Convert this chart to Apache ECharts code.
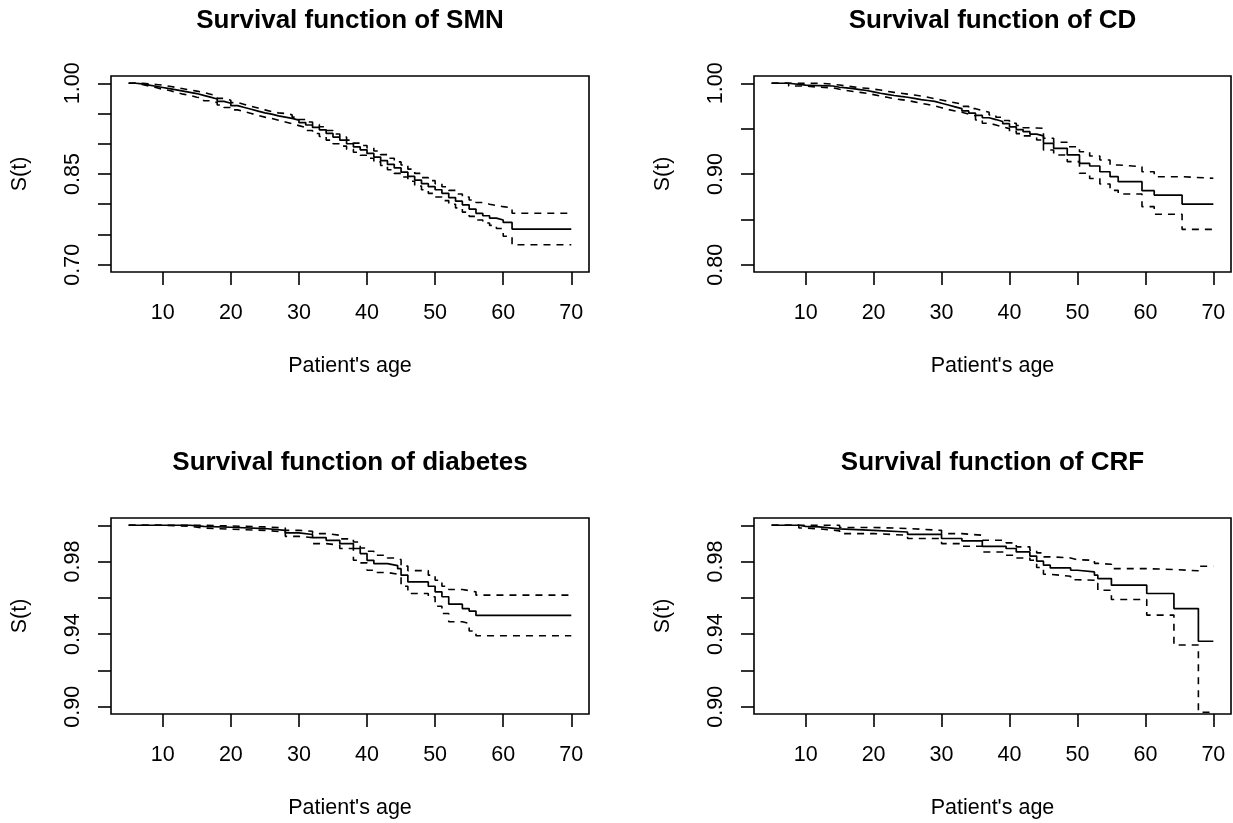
<!DOCTYPE html>
<html>
<head>
<meta charset="utf-8">
<script src="https://cdn.jsdelivr.net/npm/echarts@6/dist/echarts.min.js"></script>
<style>
html,body{margin:0;padding:0;background:#fff;}
#chart{width:1233px;height:823px;}
</style>
</head>
<body>
<div id="chart"></div>
<script>
// ---------- data ----------
const xTicks = [10, 20, 30, 40, 50, 60, 70];

const smnYTicks = [0.70, 0.75, 0.80, 0.85, 0.90, 0.95, 1.00];
const smnYLabels = [0.70, 0.85, 1.00];
const cdYTicks = [0.80, 0.85, 0.90, 0.95, 1.00];
const cdYLabels = [0.80, 0.90, 1.00];
const smallYTicks = [0.90, 0.92, 0.94, 0.96, 0.98, 1.00];
const smallYLabels = [0.90, 0.94, 0.98];

// Survival function of SMN
const smnTime  = [5, 6, 7, 8, 9, 10, 11, 12, 13, 14, 15, 16, 17, 18, 19, 20, 21, 22, 23, 24, 25, 26, 27, 28, 29, 30,
                  31, 32, 33, 34, 35, 36, 37, 38, 39, 40, 41, 42, 43, 44, 45, 46, 47, 48, 49, 50,
                  51, 52, 53, 54, 55, 56, 57, 58, 59, 60, 61.3, 70];
const smnSurv  = [1.000, 0.999, 0.997, 0.995, 0.993, 0.991, 0.989, 0.987, 0.985, 0.983, 0.980, 0.977, 0.974, 0.970, 0.967, 0.963, 0.960, 0.957, 0.954, 0.951, 0.949, 0.946, 0.944, 0.942, 0.939, 0.935,
                  0.931, 0.927, 0.923, 0.917, 0.911, 0.906, 0.900, 0.895, 0.890, 0.884, 0.878, 0.872, 0.866, 0.860, 0.853, 0.846, 0.840, 0.834, 0.829, 0.824,
                  0.818, 0.811, 0.805, 0.799, 0.792, 0.785, 0.781, 0.777, 0.774, 0.770, 0.759, 0.759];
const smnUpper = [1.000, 1.000, 0.999, 0.998, 0.997, 0.995, 0.993, 0.991, 0.989, 0.987, 0.985, 0.982, 0.979, 0.975, 0.972, 0.968, 0.965, 0.962, 0.959, 0.956, 0.953, 0.951, 0.950, 0.948, 0.944, 0.940,
                  0.936, 0.932, 0.928, 0.922, 0.916, 0.911, 0.906, 0.901, 0.897, 0.893, 0.888, 0.882, 0.876, 0.870, 0.865, 0.858, 0.851, 0.844, 0.839, 0.834,
                  0.829, 0.823, 0.817, 0.812, 0.807, 0.803, 0.800, 0.798, 0.796, 0.794, 0.785, 0.785];
const smnLower = [1.000, 0.998, 0.995, 0.993, 0.990, 0.988, 0.985, 0.982, 0.980, 0.977, 0.975, 0.971, 0.968, 0.964, 0.960, 0.956, 0.953, 0.950, 0.947, 0.944, 0.942, 0.939, 0.936, 0.933, 0.930, 0.927,
                  0.922, 0.917, 0.912, 0.906, 0.900, 0.896, 0.891, 0.886, 0.881, 0.876, 0.870, 0.864, 0.857, 0.851, 0.845, 0.838, 0.830, 0.824, 0.818, 0.812,
                  0.806, 0.800, 0.794, 0.787, 0.780, 0.774, 0.769, 0.765, 0.760, 0.747, 0.733, 0.733];

// Survival function of CD
const cdTime  = [5, 7.5, 10, 12,
                 14, 15, 16, 17, 18, 19, 20, 21, 22, 23, 24, 25, 26, 27, 28, 29, 30, 31, 32, 33, 34, 35, 36, 37, 38, 39, 40, 41, 42, 43, 44,
                 45, 46.5, 48.5, 50.3, 51.8, 53.3, 54.8, 56, 59.5, 61.3, 65.4, 70];
const cdSurv  = [1.000, 0.998, 0.9975, 0.997,
                 0.9956, 0.995, 0.994, 0.993, 0.992, 0.9905, 0.989, 0.9878, 0.9865, 0.9855, 0.9846, 0.9833, 0.982, 0.981, 0.980, 0.978, 0.976, 0.974, 0.972, 0.9695, 0.967, 0.9645, 0.962, 0.960, 0.9578, 0.9555, 0.952, 0.949, 0.9466, 0.944, 0.942,
                 0.9338, 0.9283, 0.921, 0.9118, 0.9088, 0.9025, 0.897, 0.8915, 0.8816, 0.8768, 0.8669, 0.8669];
const cdUpper = [1.000, 1.000, 1.000, 0.999,
                 0.998, 0.997, 0.996, 0.995, 0.9945, 0.9935, 0.9926, 0.991, 0.990, 0.989, 0.988, 0.987, 0.986, 0.9845, 0.983, 0.9815, 0.980, 0.9785, 0.977, 0.9745, 0.972, 0.970, 0.968, 0.965, 0.9625, 0.959, 0.956, 0.9535, 0.951, 0.9507, 0.9504,
                 0.9394, 0.935, 0.930, 0.9246, 0.9198, 0.9154, 0.910, 0.908, 0.9025, 0.897, 0.8953, 0.8953];
const cdLower = [1.000, 0.997, 0.9956, 0.995,
                 0.9934, 0.992, 0.991, 0.990, 0.989, 0.9875, 0.986, 0.9845, 0.983, 0.982, 0.981, 0.9795, 0.978, 0.9765, 0.975, 0.973, 0.971, 0.9695, 0.968, 0.966, 0.964, 0.9595, 0.956, 0.954, 0.952, 0.950, 0.947, 0.9445, 0.942, 0.940, 0.9375,
                 0.9265, 0.921, 0.9136, 0.9008, 0.895, 0.889, 0.882, 0.878, 0.864, 0.8556, 0.839, 0.839];

// Survival function of diabetes
const diaTime  = [5, 10, 14, 16, 20, 25, 28, 30, 32, 34, 36, 38, 39, 40, 41, 43, 44.5, 45, 46, 49, 50, 51, 52, 54, 55, 56, 70];
const diaSurv  = [1.000, 1.000, 0.9994, 0.9989, 0.9982, 0.9972, 0.9958, 0.9949, 0.9932, 0.9917, 0.9899, 0.9872, 0.9844, 0.9807, 0.9789, 0.9778, 0.9761, 0.9725, 0.9688, 0.9664, 0.9633, 0.9606, 0.9565, 0.9541, 0.9527, 0.9503, 0.9503];
const diaUpper = [1.000, 1.000, 1.000, 0.9996, 0.9991, 0.9985, 0.9972, 0.9967, 0.9954, 0.9945, 0.9925, 0.9908, 0.9875, 0.9857, 0.9835, 0.982, 0.981, 0.9775, 0.975, 0.9725, 0.9697, 0.9664, 0.9646, 0.9640, 0.9633, 0.9615, 0.9615];
const diaLower = [1.000, 0.9994, 0.9985, 0.9978, 0.9972, 0.9963, 0.9939, 0.9932, 0.9899, 0.989, 0.9872, 0.9807, 0.9793, 0.9752, 0.9740, 0.9730, 0.9719, 0.9664, 0.9624, 0.9606, 0.9554, 0.9514, 0.9468, 0.9459, 0.9417, 0.9391, 0.9391];

// Survival function of CRF
const crfTime  = [5, 8, 9, 10, 12, 15, 20, 25, 30, 33, 36, 39.5, 41, 43, 44, 45, 46, 49, 50, 52.5, 53, 55, 60.2, 64.2, 67.8, 70];
const crfSurv  = [1.000, 1.000, 0.9994, 0.9991, 0.998, 0.9972, 0.9963, 0.995, 0.9927, 0.9914, 0.9884, 0.9872, 0.9853, 0.983, 0.9802, 0.978, 0.9765, 0.9752, 0.9743, 0.9725, 0.9706, 0.967, 0.9624, 0.9541, 0.9361, 0.9361];
const crfUpper = [1.000, 1.000, 1.000, 1.000, 1.000, 0.9988, 0.9982, 0.9972, 0.9954, 0.9945, 0.9917, 0.9903, 0.9881, 0.9862, 0.9848, 0.9826, 0.982, 0.981, 0.9807, 0.979, 0.9785, 0.9761, 0.9756, 0.9749, 0.9774, 0.9774];
const crfLower = [1.000, 1.000, 0.9985, 0.998, 0.9969, 0.9954, 0.9945, 0.9927, 0.9899, 0.9884, 0.9853, 0.9835, 0.982, 0.9807, 0.9767, 0.973, 0.9719, 0.970, 0.9697, 0.968, 0.9642, 0.9591, 0.9505, 0.934, 0.897, 0.897];

const panels = [
  {title: 'Survival function of SMN', t: smnTime, s: smnSurv, u: smnUpper, l: smnLower, yMin: 0.688, yMax: 1.012, yTicks: smnYTicks, yLabels: smnYLabels},
  {title: 'Survival function of CD', t: cdTime, s: cdSurv, u: cdUpper, l: cdLower, yMin: 0.792, yMax: 1.008, yTicks: cdYTicks, yLabels: cdYLabels},
  {title: 'Survival function of diabetes', t: diaTime, s: diaSurv, u: diaUpper, l: diaLower, yMin: 0.896, yMax: 1.004, yTicks: smallYTicks, yLabels: smallYLabels},
  {title: 'Survival function of CRF', t: crfTime, s: crfSurv, u: crfUpper, l: crfLower, yMin: 0.896, yMax: 1.004, yTicks: smallYTicks, yLabels: smallYLabels}
];

// ---------- layout ----------
const FONT = "'Liberation Sans', Arial, Helvetica, sans-serif";
const gridPos = [
  {left: 111, top: 76, width: 478, height: 196},
  {left: 754, top: 76, width: 477, height: 196},
  {left: 111, top: 518, width: 478, height: 196},
  {left: 754, top: 518, width: 477, height: 196}
];
const titleTop = [8, 8, 450, 450];

const zip = (a, b) => a.map((v, i) => [v, b[i]]);

const option = {
  animation: false,
  backgroundColor: '#fff',
  title: panels.map((p, i) => ({
    text: p.title,
    left: gridPos[i].left + gridPos[i].width / 2,
    top: titleTop[i],
    textAlign: 'center',
    padding: 0,
    textStyle: {fontFamily: FONT, fontSize: 26, fontWeight: 'bold', color: '#000'}
  })),
  grid: gridPos.map(g => Object.assign({show: true, borderColor: '#000', borderWidth: 1.6, backgroundColor: 'transparent'}, g)),
  xAxis: panels.map((p, i) => ({
    type: 'value', gridIndex: i, min: 2.4, max: 72.6,
    name: "Patient's age", nameLocation: 'middle', nameGap: 83,
    nameTextStyle: {fontFamily: FONT, fontSize: 21.5, color: '#000'},
    axisLine: {show: false},
    splitLine: {show: false},
    axisTick: {show: true, inside: false, length: 13, customValues: xTicks, lineStyle: {color: '#000', width: 1.6}},
    axisLabel: {show: true, margin: 30, customValues: xTicks, fontFamily: FONT, fontSize: 21.5, color: '#000', formatter: v => String(v)}
  })),
  yAxis: panels.map((p, i) => ({
    type: 'value', gridIndex: i, min: p.yMin, max: p.yMax,
    name: 'S(t)', nameLocation: 'middle', nameGap: 80,
    nameTextStyle: {fontFamily: FONT, fontSize: 21.5, color: '#000'},
    axisLine: {show: false},
    splitLine: {show: false},
    axisTick: {show: true, inside: false, length: 13, customValues: p.yTicks, lineStyle: {color: '#000', width: 1.6}},
    axisLabel: {show: true, rotate: 90, margin: 27, customValues: p.yLabels, fontFamily: FONT, fontSize: 21.5, color: '#000', formatter: v => v.toFixed(2)}
  })),
  series: []
};

panels.forEach((p, i) => {
  const base = {type: 'line', xAxisIndex: i, yAxisIndex: i, step: 'end', showSymbol: false, symbol: 'none', silent: true, clip: true};
  option.series.push(Object.assign({}, base, {name: p.title + ' upper', data: zip(p.t, p.u), lineStyle: {color: '#000', width: 1.6, type: [7, 6]}}));
  option.series.push(Object.assign({}, base, {name: p.title + ' lower', data: zip(p.t, p.l), lineStyle: {color: '#000', width: 1.6, type: [7, 6]}}));
  option.series.push(Object.assign({}, base, {name: p.title, data: zip(p.t, p.s), lineStyle: {color: '#000', width: 1.7, type: 'solid'}}));
});

const chart = echarts.init(document.getElementById('chart'), null, {renderer: 'canvas'});
chart.setOption(option);
</script>
</body>
</html>
